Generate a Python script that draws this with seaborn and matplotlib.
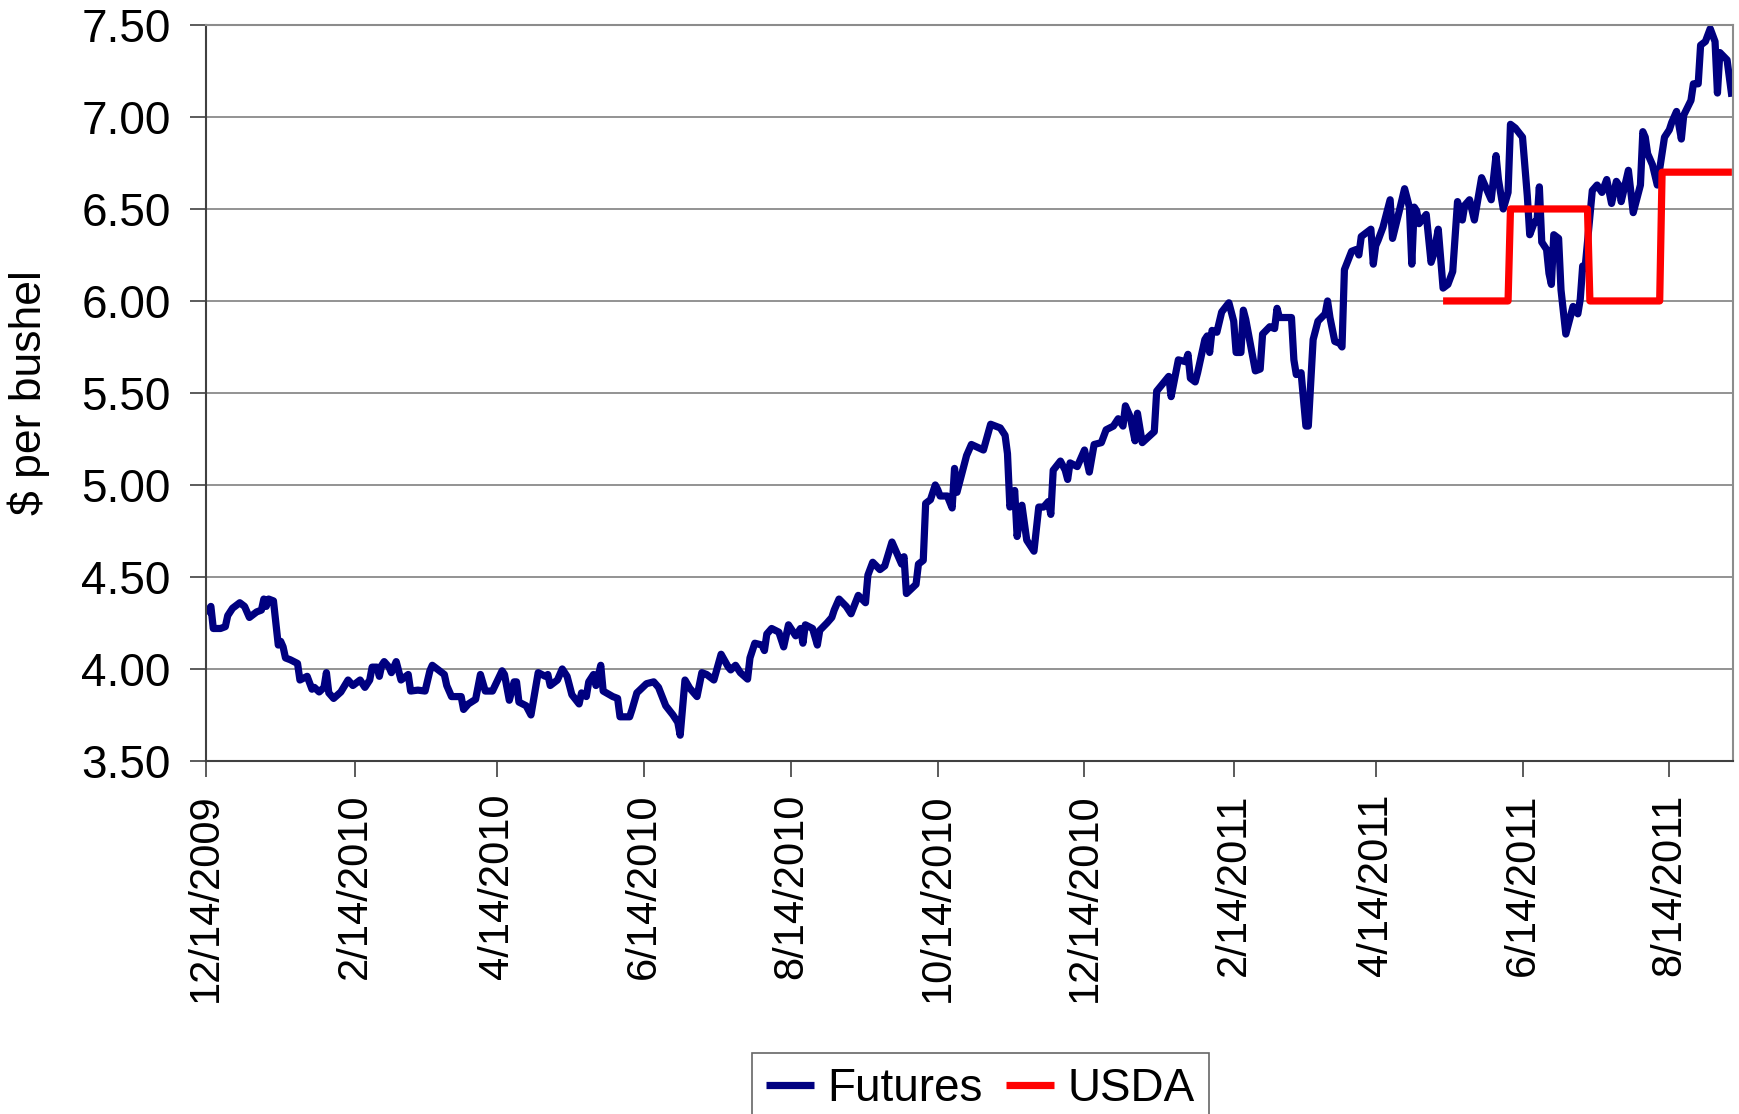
import pandas as pd
import seaborn as sns
import matplotlib.pyplot as plt

# futures: days after 12/14/2009 and price ($/bu)
futures_day = [
    0, 2, 3, 6, 8, 9, 11, 14, 16, 18,
    21, 23, 24, 25, 26, 28, 30, 31, 32, 33,
    35, 38, 39, 42, 44, 45, 47, 49, 50, 51,
    53, 56, 59, 61, 64, 66, 68, 69, 71, 72,
    73, 74, 76, 77, 79, 81, 83, 84, 85, 88,
    91, 93, 94, 97, 99, 100, 102, 106, 107, 109,
    112, 114, 116, 119, 123, 124, 126, 128, 129, 130,
    133, 135, 138, 141, 142, 143, 146, 148, 150, 152,
    155, 156, 158, 159, 161, 162, 164, 165, 169, 171,
    172, 176, 177, 179, 183, 186, 188, 191, 194, 196,
    197, 199, 201, 204, 206, 208, 211, 214, 217, 218,
    220, 222, 225, 226, 228, 231, 232, 233, 235, 238,
    240, 242, 245, 247, 248, 249, 252, 254, 255, 258,
    260, 261, 263, 266, 268, 271, 274, 275, 277, 280,
    282, 285, 287, 289, 290, 291, 295, 296, 298, 299,
    301, 303, 304, 305, 308, 310, 311, 312, 316, 318,
    323, 326, 330, 332, 333, 334, 336, 337, 339, 341,
    344, 346, 348, 350, 351, 352, 355, 357, 358, 359,
    362, 365, 367, 369, 372, 374, 377, 379, 381, 382,
    384, 386, 387, 389, 394, 395, 400, 401, 404, 407,
    408, 409, 411, 412, 415, 416, 417, 418, 420, 422,
    425, 427, 428, 430, 431, 432, 436, 438, 439, 442,
    444, 445, 446, 451, 452, 453, 455, 457, 458, 460,
    462, 465, 466, 467, 469, 471, 472, 473, 476, 478,
    479, 480, 484, 485, 486, 487, 489, 492, 493, 496,
    498, 500, 501, 502, 503, 504, 507, 509, 510, 512,
    514, 516, 518, 520, 522, 523, 525, 527, 530, 532,
    534, 536, 537, 539, 541, 542, 544, 547, 549, 550,
    552, 553, 554, 555, 557, 558, 559, 560, 562, 563,
    565, 568, 570, 571, 572, 573, 576, 578, 580, 582,
    584, 586, 587, 588, 591, 593, 596, 597, 598, 599,
    601, 603, 606, 608, 609, 611, 613, 614, 617, 618,
    620, 621, 623, 625, 627, 628, 629, 632, 634,
]
futures_price = [
    4.30, 4.34, 4.22, 4.22, 4.23, 4.29, 4.33, 4.36, 4.34, 4.28,
    4.31, 4.32, 4.38, 4.34, 4.38, 4.37, 4.13, 4.15, 4.12, 4.06,
    4.05, 4.03, 3.94, 3.96, 3.89, 3.90, 3.875, 3.90, 3.98, 3.87,
    3.84, 3.875, 3.94, 3.91, 3.94, 3.90, 3.94, 4.01, 4.01, 3.96,
    4.02, 4.04, 4.01, 3.98, 4.04, 3.94, 3.96, 3.97, 3.88, 3.885,
    3.88, 3.99, 4.02, 3.99, 3.97, 3.91, 3.85, 3.85, 3.78, 3.81,
    3.835, 3.97, 3.88, 3.88, 3.99, 3.97, 3.83, 3.93, 3.93, 3.82,
    3.80, 3.75, 3.98, 3.96, 3.97, 3.91, 3.94, 4.00, 3.96, 3.86,
    3.81, 3.87, 3.85, 3.93, 3.97, 3.91, 4.02, 3.88, 3.85, 3.84,
    3.74, 3.74, 3.78, 3.87, 3.92, 3.93, 3.90, 3.80, 3.75, 3.71,
    3.64, 3.94, 3.895, 3.85, 3.98, 3.97, 3.94, 4.08, 4.01, 3.995,
    4.02, 3.98, 3.945, 4.06, 4.14, 4.13, 4.10, 4.19, 4.22, 4.20,
    4.12, 4.24, 4.18, 4.22, 4.14, 4.24, 4.22, 4.13, 4.21, 4.25,
    4.28, 4.32, 4.38, 4.34, 4.30, 4.40, 4.36, 4.51, 4.58, 4.54,
    4.56, 4.69, 4.63, 4.57, 4.61, 4.41, 4.46, 4.57, 4.59, 4.90,
    4.92, 5.00, 4.975, 4.94, 4.94, 4.875, 5.09, 4.96, 5.16, 5.22,
    5.19, 5.33, 5.31, 5.27, 5.17, 4.88, 4.97, 4.72, 4.89, 4.70,
    4.64, 4.88, 4.88, 4.91, 4.84, 5.08, 5.13, 5.08, 5.03, 5.12,
    5.10, 5.19, 5.07, 5.22, 5.23, 5.30, 5.32, 5.36, 5.32, 5.43,
    5.37, 5.24, 5.39, 5.23, 5.29, 5.51, 5.59, 5.48, 5.68, 5.67,
    5.71, 5.58, 5.56, 5.61, 5.79, 5.81, 5.72, 5.84, 5.83, 5.94,
    5.99, 5.89, 5.72, 5.72, 5.95, 5.90, 5.62, 5.63, 5.82, 5.86,
    5.85, 5.96, 5.91, 5.91, 5.68, 5.60, 5.61, 5.32, 5.32, 5.79,
    5.89, 5.93, 6.00, 5.91, 5.78, 5.77, 5.75, 6.17, 6.27, 6.28,
    6.25, 6.35, 6.39, 6.20, 6.30, 6.33, 6.40, 6.55, 6.34, 6.50,
    6.61, 6.51, 6.20, 6.51, 6.49, 6.42, 6.47, 6.21, 6.25, 6.39,
    6.07, 6.09, 6.16, 6.54, 6.44, 6.52, 6.55, 6.44, 6.67, 6.61,
    6.55, 6.79, 6.66, 6.50, 6.59, 6.96, 6.94, 6.89, 6.57, 6.36,
    6.43, 6.43, 6.62, 6.32, 6.28, 6.15, 6.09, 6.36, 6.34, 6.06,
    5.82, 5.97, 5.93, 6.01, 6.19, 6.18, 6.60, 6.63, 6.59, 6.66,
    6.53, 6.65, 6.63, 6.54, 6.71, 6.48, 6.63, 6.92, 6.89, 6.80,
    6.74, 6.63, 6.89, 6.93, 6.97, 7.03, 6.88, 7.01, 7.09, 7.18,
    7.18, 7.39, 7.41, 7.48, 7.41, 7.13, 7.35, 7.31, 7.11,
]

# USDA season-average price estimates (step changes on report days)
usda_date = ['2011-05-12', '2011-06-08', '2011-06-09', '2011-07-11',
             '2011-07-12', '2011-08-10', '2011-08-11', '2011-09-09']
usda_price = [6.00, 6.00, 6.50, 6.50, 6.00, 6.00, 6.70, 6.70]

x_tick_labels = ['12/14/2009', '2/14/2010', '4/14/2010', '6/14/2010',
                 '8/14/2010', '10/14/2010', '12/14/2010', '2/14/2011',
                 '4/14/2011', '6/14/2011', '8/14/2011']
y_tick_labels = ['3.50', '4.00', '4.50', '5.00', '5.50',
                 '6.00', '6.50', '7.00', '7.50']

inicio = pd.Timestamp('2009-12-14')
futuros = pd.DataFrame({
    'Data': inicio + pd.to_timedelta(futures_day, unit='D'),
    'Preco': futures_price,
})
usda = pd.DataFrame({'Data': pd.to_datetime(usda_date), 'Preco': usda_price})

sns.set_theme(style='white')
plt.rcParams['font.family'] = ['Liberation Sans', 'DejaVu Sans']
plt.rcParams['text.color'] = 'black'
plt.rcParams['xtick.labelcolor'] = 'black'
plt.rcParams['ytick.labelcolor'] = 'black'

fig = plt.figure(figsize=(17.39, 11.14), dpi=100)
ax = fig.add_axes([0.1185, 0.3169, 0.8781, 0.6607])

sns.lineplot(data=futuros, x='Data', y='Preco', ax=ax, color='#000080',
             linewidth=5.2, estimator=None, label='Futures',
             solid_joinstyle='round', solid_capstyle='butt')
sns.lineplot(data=usda, x='Data', y='Preco', ax=ax, color='#ff0000',
             linewidth=5.2, estimator=None, label='USDA',
             solid_joinstyle='round', solid_capstyle='butt')

ax.set_xlim(inicio, inicio + pd.Timedelta(days=634.5))
ax.set_ylim(3.5, 7.5)
ax.set_xticks(pd.to_datetime(x_tick_labels, format='%m/%d/%Y'))
ax.set_xticklabels(x_tick_labels, rotation=90, fontsize=30, color='black')
ax.set_yticks([float(t) for t in y_tick_labels])
ax.set_yticklabels(y_tick_labels, fontsize=33, color='black')

ax.set_axisbelow(True)
ax.yaxis.grid(True, color='#808080', linewidth=1.2)
ax.xaxis.grid(False)
for lado in ['top', 'right']:
    ax.spines[lado].set_color('#8c8c8c')
    ax.spines[lado].set_linewidth(1.5)
for lado in ['left', 'bottom']:
    ax.spines[lado].set_color('#404040')
    ax.spines[lado].set_linewidth(1.5)

ax.tick_params(axis='x', direction='out', length=11.5, width=1.2,
               color='#404040', pad=12, bottom=True)
ax.tick_params(axis='y', direction='out', length=11.5, width=1.2,
               color='#404040', pad=14, left=True)

ax.set_xlabel('')
ax.set_ylabel('$ per bushel', fontsize=32, color='black')
ax.yaxis.set_label_coords(-0.102, 0.5)

leg = ax.legend(loc='upper left', bbox_to_anchor=(752 / 1739, 1 - 1053 / 1114),
                bbox_transform=fig.transFigure, ncol=2, fontsize=33,
                frameon=True, fancybox=False, edgecolor='#404040',
                handlelength=1.05, handletextpad=0.3, columnspacing=0.5,
                borderpad=0.3, borderaxespad=0)
leg.get_frame().set_linewidth(1.2)
for texto in leg.get_texts():
    texto.set_color('black')

fig.savefig('out.png', dpi=100)
